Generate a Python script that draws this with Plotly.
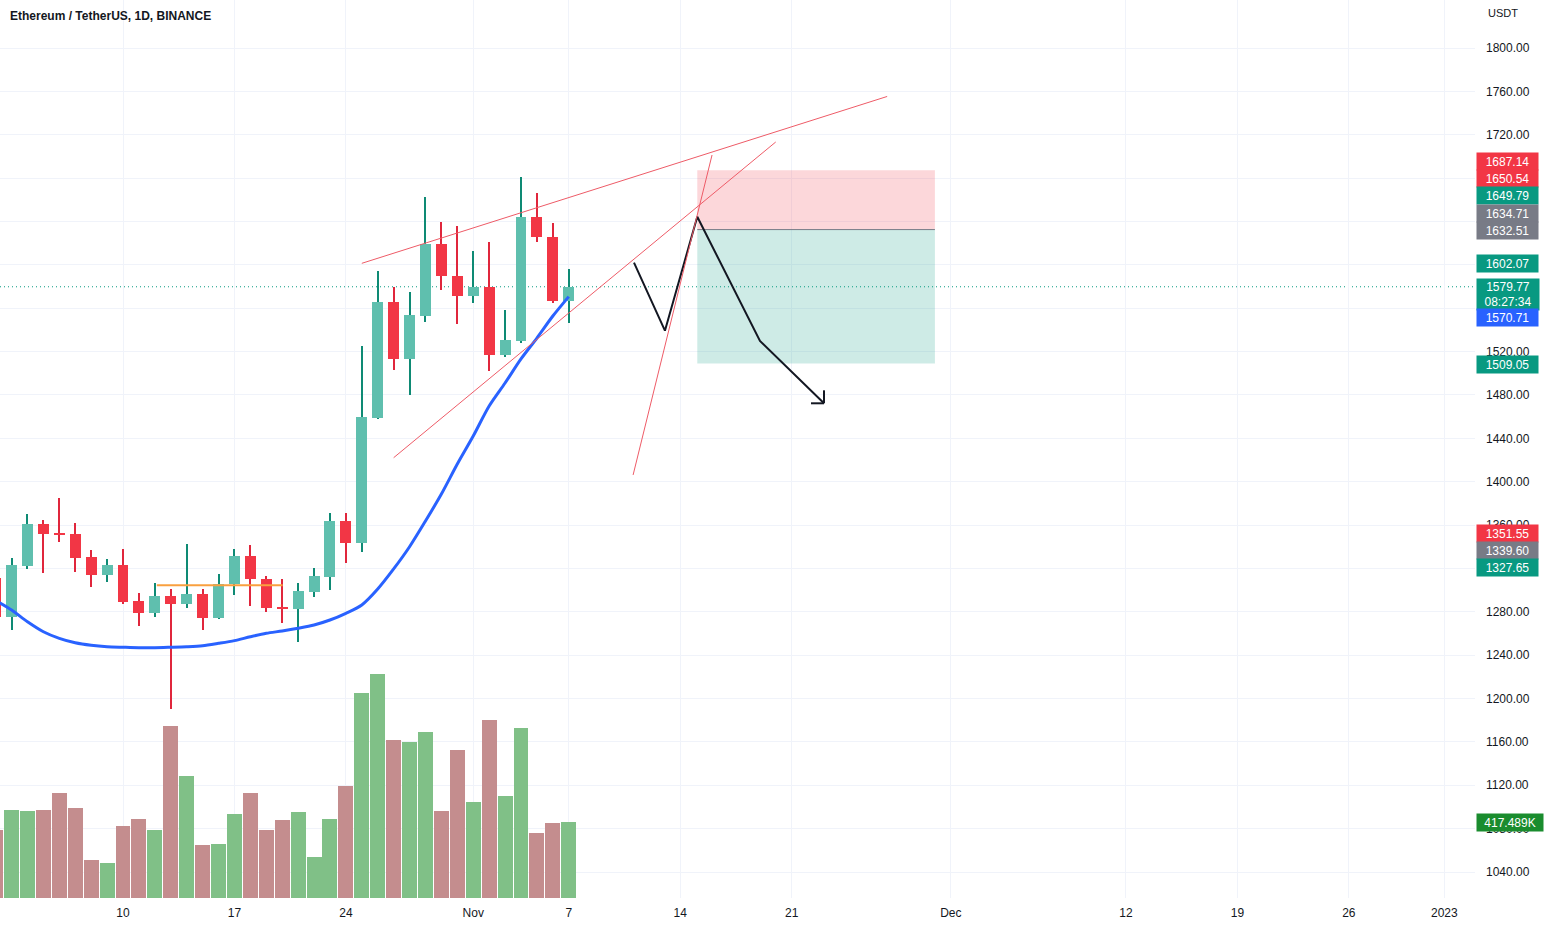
import pandas as pd
import plotly.graph_objects as go

# ---------------- data ----------------
dates = pd.date_range("2022-10-02", "2022-11-07", freq="D")

opens = [1310.9, 1275.5, 1322.5, 1361.0, 1352.2, 1351.8, 1330.2, 1314.2, 1322.8, 1289.9,
         1279.2, 1294.6, 1286.9, 1296.1, 1274.0, 1305.4, 1331.5, 1310.2, 1284.7, 1282.3,
         1298.5, 1312.4, 1363.7, 1343.2, 1459.0, 1566.0, 1513.2, 1553.1, 1619.2, 1590.0,
         1571.5, 1579.4, 1516.8, 1529.8, 1644.1, 1625.7, 1567.0]
highs = [1318.0, 1329.9, 1369.9, 1364.7, 1384.7, 1362.2, 1337.0, 1328.7, 1337.9, 1297.0,
         1306.3, 1301.0, 1342.5, 1301.0, 1314.6, 1337.9, 1341.6, 1313.3, 1310.5, 1306.8,
         1320.1, 1370.8, 1370.8, 1525.1, 1594.3, 1579.3, 1574.7, 1662.3, 1639.5, 1635.8,
         1612.8, 1621.1, 1558.4, 1681.0, 1666.3, 1638.6, 1595.9]
lows = [1265.0, 1263.5, 1319.2, 1316.1, 1344.6, 1317.0, 1303.1, 1307.2, 1287.5, 1267.2,
        1275.5, 1190.3, 1283.8, 1263.2, 1273.0, 1295.5, 1285.3, 1280.1, 1269.9, 1252.4,
        1293.9, 1300.1, 1324.7, 1335.4, 1457.5, 1503.0, 1479.9, 1547.6, 1576.8, 1545.4,
        1564.5, 1502.4, 1515.3, 1528.2, 1621.1, 1564.5, 1546.6]
closes = [1275.5, 1323.2, 1360.7, 1351.5, 1351.4, 1329.9, 1314.2, 1322.8, 1289.3, 1279.2,
          1294.6, 1286.9, 1296.1, 1274.0, 1305.4, 1331.5, 1309.9, 1283.8, 1282.3, 1299.2,
          1313.0, 1363.7, 1343.2, 1459.9, 1566.0, 1513.2, 1553.7, 1619.2, 1590.0, 1571.5,
          1579.4, 1516.8, 1530.7, 1644.1, 1625.7, 1566.7, 1579.77]
volumes_k = [373, 484, 478, 484, 577, 495, 208, 191, 395, 434,
             373, 947, 671, 291, 296, 462, 577, 373, 429, 473,
             224, 434, 616, 1129, 1234, 870, 859, 914, 478, 815,
             528, 980, 561, 936, 357, 415, 417.489]
ma_values = [1290.4, 1281.6, 1270.8, 1261.6, 1255.5, 1251.4, 1249.1, 1247.8, 1247.3, 1246.9,
             1246.9, 1247.3, 1247.8, 1248.7, 1250.9, 1253.4, 1257.0, 1260.2, 1262.3, 1264.8,
             1267.8, 1272.4, 1278.6, 1286.3, 1301.0, 1319.5, 1340.0, 1363.7, 1388.6, 1416.3,
             1442.1, 1469.8, 1491.0, 1513.2, 1532.5, 1552.8, 1570.71]

price_ticks = list(range(1040, 1801, 40))
hidden_price_ticks = [1560, 1600, 1640, 1680]   # fully covered by price labels in the reference
date_tick_vals = ["2022-10-10", "2022-10-17", "2022-10-24", "2022-11-01", "2022-11-07",
                  "2022-11-14", "2022-11-21", "2022-12-01", "2022-12-12", "2022-12-19",
                  "2022-12-26", "2023-01-01"]
date_tick_text = ["10", "17", "24", "Nov", "7", "14", "21", "Dec", "12", "19", "26", "2023"]

# drawings
trend_lines = [
    ("2022-10-25 00:00", 1601.4, "2022-11-27 00:00", 1755.3),
    ("2022-10-27 00:00", 1422.1, "2022-11-20 00:00", 1713.3),
    ("2022-11-11 01:00", 1406.2, "2022-11-16 00:00", 1701.3),
]
zig_x = ["2022-11-11 02:20", "2022-11-13 01:00", "2022-11-15 01:45", "2022-11-19 00:15", "2022-11-23 00:45"]
zig_y = [1602.07, 1539.3, 1644.4, 1529.8, 1472.3]
pos_start, pos_end = "2022-11-15 01:45", "2022-11-30 00:00"
pos_entry, pos_stop, pos_target = 1632.51, 1687.14, 1509.05
hline_start, hline_end, hline_price = "2022-10-12 03:00", "2022-10-20 00:45", 1304.4
last_price = 1579.77

label_texts = ["1687.14", "1650.54", "1649.79", "1634.71", "1632.51", "1602.07",
               "1579.77<br>08:27:34", "1570.71", "1509.05", "1351.55", "1339.60", "1327.65",
               "417.489K"]
label_levels = [1694.9, 1679.2, 1663.5, 1647.8, 1632.1, 1601.7, 1572.2, 1551.0, 1508.5,
                1351.8, 1336.1, 1320.4, 1086.1]
label_colors = ["#F23645", "#F23645", "#089981", "#787B86", "#787B86", "#089981",
                "#089981", "#2962FF", "#089981", "#F23645", "#787B86", "#089981", "#1A8C2E"]

# ---------------- styling ----------------
UP_BODY, UP_WICK = "#5FBFAE", "#0E8A74"
DN_BODY, DN_WICK = "#F23645", "#E0263C"
VOL_UP, VOL_DN = "#80C087", "#C48D8E"
GRID = "#F0F3FA"
TXT = "#131722"
FONT = "Liberation Sans, Arial, sans-serif"
DAY_MS = 86400000
PX_PER_DAY = 15.92

W, H = 1546, 926
M_R, M_B = 71, 28
plot_w, plot_h = W - M_R, H - M_B

up = [c >= o for o, c in zip(opens, closes)]
body_base = [min(o, c) for o, c in zip(opens, closes)]
body_h = [max(abs(c - o), 0.8) for o, c in zip(opens, closes)]
wick_h = [h - l for h, l in zip(highs, lows)]

fig = go.Figure()

# wicks (narrow bars)
fig.add_trace(go.Bar(x=dates, y=wick_h, base=lows, width=DAY_MS / PX_PER_DAY * 1.0,
                     marker=dict(color=[UP_WICK if u else DN_WICK for u in up], line=dict(width=0)),
                     hoverinfo="skip", showlegend=False))
# bodies
fig.add_trace(go.Bar(x=dates, y=body_h, base=body_base, width=DAY_MS * 0.69,
                     marker=dict(color=[UP_BODY if u else DN_BODY for u in up], line=dict(width=0)),
                     hoverinfo="skip", showlegend=False))
# moving average
fig.add_trace(go.Scatter(x=dates, y=ma_values, mode="lines",
                         line=dict(color="#2962FF", width=3, shape="spline", smoothing=0.8),
                         hoverinfo="skip", showlegend=False))
# zigzag projection
fig.add_trace(go.Scatter(x=pd.to_datetime(zig_x), y=zig_y, mode="lines",
                         line=dict(color=TXT, width=2), hoverinfo="skip", showlegend=False))
# volume
fig.add_trace(go.Bar(x=dates, y=[v * 1000 for v in volumes_k], width=DAY_MS * 0.94, yaxis="y2",
                     marker=dict(color=[VOL_UP if u else VOL_DN for u in up], line=dict(width=0)),
                     hoverinfo="skip", showlegend=False))

# axis ranges from pixel geometry
ref_day = pd.Timestamp("2022-10-10")
ref_px = 123
x0 = ref_day - pd.Timedelta(days=ref_px / PX_PER_DAY)
x1 = ref_day + pd.Timedelta(days=(plot_w - ref_px) / PX_PER_DAY)
px_per_usd = 824 / 760.0
y_top = 1800 + 48 / px_per_usd
y_bot = 1800 - (plot_h - 48) / px_per_usd
vol_px = 75.7
vol_max = 417489 * plot_h / vol_px

shapes = []
# position tool
shapes.append(dict(type="rect", xref="x", yref="y", x0=pos_start, x1=pos_end, y0=pos_entry, y1=pos_stop,
                   fillcolor="rgba(242,54,69,0.2)", line=dict(width=0), layer="between"))
shapes.append(dict(type="rect", xref="x", yref="y", x0=pos_start, x1=pos_end, y0=pos_target, y1=pos_entry,
                   fillcolor="rgba(8,153,129,0.2)", line=dict(width=0), layer="between"))
shapes.append(dict(type="line", xref="x", yref="y", x0=pos_start, x1=pos_end, y0=pos_entry, y1=pos_entry,
                   line=dict(color="#787B86", width=1), layer="between"))
# current price dotted line
shapes.append(dict(type="line", xref="paper", yref="y", x0=0, x1=1, y0=last_price, y1=last_price,
                   line=dict(color="#089981", width=1, dash="1px,3px"), layer="between"))
# orange horizontal
shapes.append(dict(type="line", xref="x", yref="y", x0=hline_start, x1=hline_end, y0=hline_price,
                   y1=hline_price, line=dict(color="#F9A03F", width=2), layer="above"))
# trend lines
for xa, ya, xb, yb in trend_lines:
    shapes.append(dict(type="line", xref="x", yref="y", x0=xa, y0=ya, x1=xb, y1=yb,
                       line=dict(color="#EE5B67", width=1), layer="above"))
# open arrowhead at end of zigzag
tip_x, tip_y = zig_x[-1], zig_y[-1]
shapes.append(dict(type="line", xref="x", yref="y", xsizemode="pixel", ysizemode="pixel",
                   xanchor=tip_x, yanchor=tip_y, x0=0, x1=0, y0=0, y1=13,
                   line=dict(color=TXT, width=2), layer="above"))
shapes.append(dict(type="line", xref="x", yref="y", xsizemode="pixel", ysizemode="pixel",
                   xanchor=tip_x, yanchor=tip_y, x0=0, x1=-13, y0=0, y1=0,
                   line=dict(color=TXT, width=2), layer="above"))

annotations = []
annotations.append(dict(xref="paper", yref="paper", x=0, y=1, xshift=8, yshift=-16,
                        xanchor="left", yanchor="middle", showarrow=False,
                        text="<b>Ethereum / TetherUS, 1D, BINANCE</b>",
                        font=dict(family=FONT, size=12, color=TXT)))
annotations.append(dict(xref="paper", yref="paper", x=1, y=1, xshift=11, yshift=-13,
                        xanchor="left", yanchor="middle", showarrow=False, text="USDT",
                        font=dict(family=FONT, size=11, color=TXT)))
for t, lv, col in zip(label_texts, label_levels, label_colors):
    two = "<br>" in t
    wide = t.endswith("K")
    annotations.append(dict(xref="paper", yref="y", x=1, y=lv, xshift=1, xanchor="left",
                            yanchor="middle", showarrow=False, text=t, align="center",
                            bgcolor=col, borderpad=2, width=62 if wide else (58 if two else 57),
                            height=27 if two else 13,
                            font=dict(family=FONT, size=12, color="white")))

fig.update_layout(
    width=W, height=H,
    margin=dict(l=0, r=M_R, t=0, b=M_B, pad=0),
    paper_bgcolor="white", plot_bgcolor="white",
    barmode="overlay", bargap=0,
    showlegend=False,
    hovermode=False,
    xaxis=dict(type="date", range=[x0, x1], tickvals=date_tick_vals, ticktext=date_tick_text,
               showgrid=True, gridcolor=GRID, gridwidth=1, zeroline=False, showline=False,
               ticks="", tickfont=dict(family=FONT, size=12, color=TXT), ticklabelstandoff=6,
               fixedrange=True),
    yaxis=dict(range=[y_bot, y_top], side="right", tickvals=price_ticks,
               ticktext=["" if p in hidden_price_ticks else f"{p:.2f}" for p in price_ticks],
               showgrid=True, gridcolor=GRID,
               gridwidth=1, zeroline=False, showline=False, ticks="",
               tickfont=dict(family=FONT, size=12, color=TXT), ticklabelstandoff=10),
    yaxis2=dict(range=[0, vol_max], overlaying="y", visible=False, showgrid=False),
    shapes=shapes,
    annotations=annotations,
)

fig.write_html("out.html", config={"displayModeBar": False},
               post_script="document.body.style.margin='0';document.body.style.padding='0';"
                           "document.body.style.overflow='hidden';")
